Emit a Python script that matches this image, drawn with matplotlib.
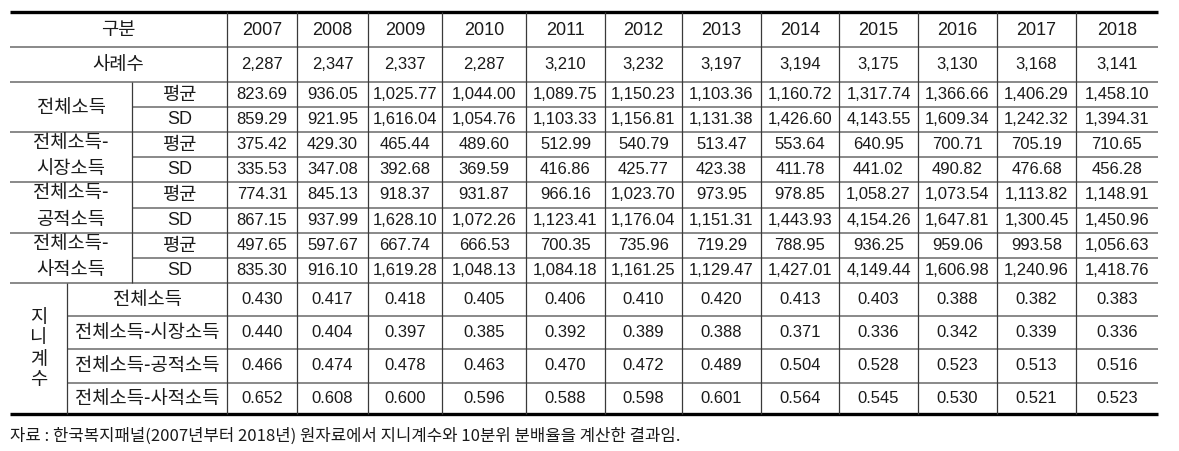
import matplotlib
matplotlib.use("Agg")
import matplotlib.pyplot as plt

plt.rcParams['font.family'] = ['Liberation Sans', 'Noto Sans CJK KR', 'DejaVu Sans']

# 표 데이터
years = [2007, 2008, 2009, 2010, 2011, 2012, 2013, 2014, 2015, 2016, 2017, 2018]
cases = [2287, 2347, 2337, 2287, 3210, 3232, 3197, 3194, 3175, 3130, 3168, 3141]

total_mean = [823.69, 936.05, 1025.77, 1044.00, 1089.75, 1150.23, 1103.36, 1160.72, 1317.74, 1366.66, 1406.29, 1458.10]
total_sd = [859.29, 921.95, 1616.04, 1054.76, 1103.33, 1156.81, 1131.38, 1426.60, 4143.55, 1609.34, 1242.32, 1394.31]
market_mean = [375.42, 429.30, 465.44, 489.60, 512.99, 540.79, 513.47, 553.64, 640.95, 700.71, 705.19, 710.65]
market_sd = [335.53, 347.08, 392.68, 369.59, 416.86, 425.77, 423.38, 411.78, 441.02, 490.82, 476.68, 456.28]
public_mean = [774.31, 845.13, 918.37, 931.87, 966.16, 1023.70, 973.95, 978.85, 1058.27, 1073.54, 1113.82, 1148.91]
public_sd = [867.15, 937.99, 1628.10, 1072.26, 1123.41, 1176.04, 1151.31, 1443.93, 4154.26, 1647.81, 1300.45, 1450.96]
private_mean = [497.65, 597.67, 667.74, 666.53, 700.35, 735.96, 719.29, 788.95, 936.25, 959.06, 993.58, 1056.63]
private_sd = [835.30, 916.10, 1619.28, 1048.13, 1084.18, 1161.25, 1129.47, 1427.01, 4149.44, 1606.98, 1240.96, 1418.76]

gini_total = [0.430, 0.417, 0.418, 0.405, 0.406, 0.410, 0.420, 0.413, 0.403, 0.388, 0.382, 0.383]
gini_market = [0.440, 0.404, 0.397, 0.385, 0.392, 0.389, 0.388, 0.371, 0.336, 0.342, 0.339, 0.336]
gini_public = [0.466, 0.474, 0.478, 0.463, 0.470, 0.472, 0.489, 0.504, 0.528, 0.523, 0.513, 0.516]
gini_private = [0.652, 0.608, 0.600, 0.596, 0.588, 0.598, 0.601, 0.564, 0.545, 0.530, 0.521, 0.523]

group_labels = ['전체소득', '전체소득-\n시장소득', '전체소득-\n공적소득', '전체소득-\n사적소득']
stat_labels = ['평균', 'SD']
gini_labels = ['전체소득', '전체소득-시장소득', '전체소득-공적소득', '전체소득-사적소득']
footnote = '자료 : 한국복지패널(2007년부터 2018년) 원자료에서 지니계수와 10분위 분배율을 계산한 결과임.'

# 레이아웃 (픽셀 좌표)
x_left, x_right = 10, 1158
x_gini = 67
x_sub = 132
col_edges = [227, 297, 368, 442, 526, 605, 682, 761, 839, 918, 997, 1076, x_right]
y_top = 12
y_head = 47
y_case = 82
row_h = 25.1
y_gini = [283, 316, 349, 383]
y_bottom = 414

TXT = '#1a1a1a'
GRID_H = '#808080'
GRID_V = '#3a3a3a'
FS = 12      # 숫자
KFS = 13.5   # 한글 라벨
KFAM = ['Noto Sans CJK KR', 'DejaVu Sans']

fig = plt.figure(figsize=(11.79, 4.51), dpi=100)
ax = fig.add_axes([0, 0, 1, 1])
ax.set_xlim(0, 1179)
ax.set_ylim(451, 0)
ax.axis('off')

centers = [(col_edges[i] + col_edges[i + 1]) / 2 for i in range(len(years))]


def klabel(x, y, s, **kw):
    ax.text(x, y, s, ha='center', va='center', fontsize=KFS, color=TXT,
            family=KFAM, **kw)


# 머리행
klabel((x_left + col_edges[0]) / 2, (y_top + y_head) / 2, '구분')
for cx, yr in zip(centers, years):
    ax.text(cx, (y_top + y_head) / 2 + 1, str(yr), ha='center', va='center',
            fontsize=13, color=TXT)

# 사례수
klabel((x_left + col_edges[0]) / 2, (y_head + y_case) / 2, '사례수')
for cx, v in zip(centers, cases):
    ax.text(cx, (y_head + y_case) / 2, f'{v:,}', ha='center', va='center',
            fontsize=FS, color=TXT)

# 평균 / SD 블록
series = [(total_mean, total_sd), (market_mean, market_sd),
          (public_mean, public_sd), (private_mean, private_sd)]
row_y = [y_case + row_h * i for i in range(9)]
row_y[-1] = y_gini[0]
for g, (lab, (mean, sd)) in enumerate(zip(group_labels, series)):
    y0 = row_y[2 * g]
    y1 = row_y[2 * g + 1]
    y2 = row_y[2 * g + 2]
    if '\n' in lab:
        l1, l2 = lab.split('\n')
        klabel((x_left + x_sub) / 2, (y0 + y1) / 2 - 2, l1)
        klabel((x_left + x_sub) / 2, (y1 + y2) / 2 - 1, l2)
    else:
        klabel((x_left + x_sub) / 2, y1, lab)
    for vals, ya, yb, sl in [(mean, y0, y1, stat_labels[0]), (sd, y1, y2, stat_labels[1])]:
        yc = (ya + yb) / 2
        if sl == 'SD':
            ax.text((x_sub + col_edges[0]) / 2, yc, sl, ha='center', va='center',
                    fontsize=13, color=TXT)
        else:
            klabel((x_sub + col_edges[0]) / 2, yc, sl)
        for cx, v in zip(centers, vals):
            ax.text(cx, yc, f'{v:,.2f}', ha='center', va='center',
                    fontsize=FS, color=TXT)
    # 그룹 내부 선 / 그룹 경계선
    ax.hlines(y1, x_sub, x_right, color=GRID_H, lw=1.3)
    ax.hlines(y2, x_left, x_right, color=GRID_H, lw=1.3)

# 지니계수 블록
gini_rows = [gini_total, gini_market, gini_public, gini_private]
gy = y_gini + [y_bottom]
klabel((x_left + x_gini) / 2, (gy[0] + gy[-1]) / 2, '\n'.join('지니계수'),
       linespacing=1.0)
for i, (lab, vals) in enumerate(zip(gini_labels, gini_rows)):
    yc = (gy[i] + gy[i + 1]) / 2
    klabel((x_gini + col_edges[0]) / 2, yc, lab)
    for cx, v in zip(centers, vals):
        ax.text(cx, yc, f'{v:.3f}', ha='center', va='center',
                fontsize=FS, color=TXT)
    if i > 0:
        ax.hlines(gy[i], x_gini, x_right, color=GRID_H, lw=1.3)

# 가로선
ax.hlines([y_head, y_case], x_left, x_right, color=GRID_H, lw=1.3)
ax.hlines([y_top, y_bottom], x_left, x_right, color='black', lw=2.4)

# 세로선
ax.vlines(col_edges[:-1], y_top, y_bottom, color=GRID_V, lw=0.9)
ax.vlines(x_sub, y_case, y_gini[0], color=GRID_V, lw=0.9)
ax.vlines(x_gini, y_gini[0], y_bottom, color=GRID_V, lw=0.9)

# 주석
ax.text(x_left, 436, footnote, ha='left', va='center', fontsize=12, color=TXT,
        family=KFAM)

fig.savefig('out.png', dpi=100)
